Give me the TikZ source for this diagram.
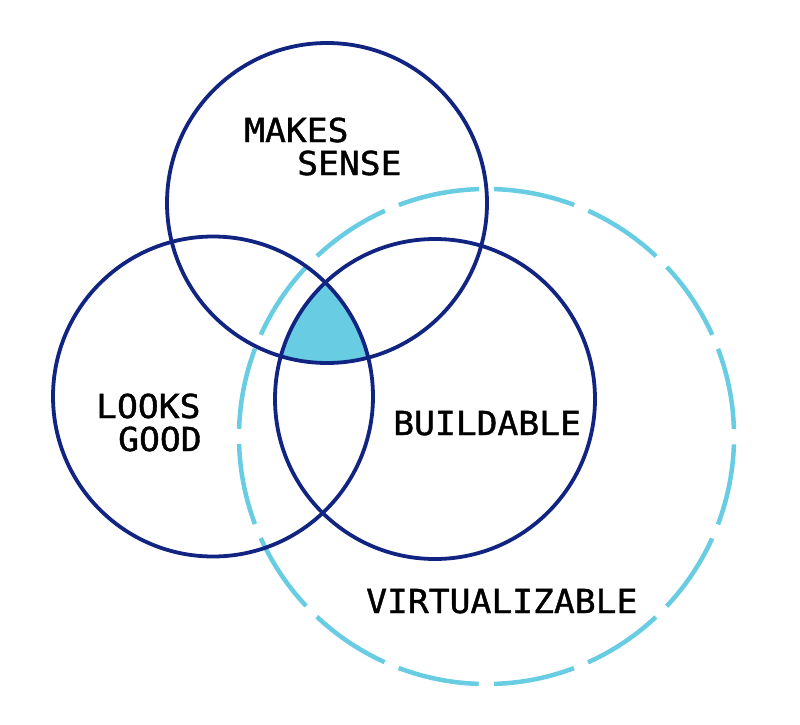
\documentclass[tikz,border=0pt]{standalone}
\usepackage{fontspec}
\newfontfamily\labfont[FakeStretch=1.05,FakeBold=1.2]{DejaVu Sans Mono}
\definecolor{navy}{RGB}{18,36,130}
\definecolor{sky}{RGB}{104,204,226}
\begin{document}
\begin{tikzpicture}[x=1pt,y=-1pt,
  solidcirc/.style={draw=navy,line width=3.8pt},
  dashcirc/.style={draw=sky,line width=4.5pt,dash pattern=on 82pt off 15.19pt,dash phase=89.6pt},
  lab/.style={anchor=base west,inner sep=0pt,font=\labfont\fontsize{33}{40}\selectfont,text=black}]
\fill[white] (0,0) rectangle (800,725);
\useasboundingbox (0,0) rectangle (800,725);
\coordinate (cm) at (327,203);
\coordinate (cl) at (213,396.5);
\coordinate (cb) at (435,399);
\coordinate (cv) at (486.5,436.5);
\draw[dashcirc] (cv) circle[radius=247.5pt];
\begin{scope}
  \clip (cm) circle[radius=160pt];
  \clip (cl) circle[radius=160pt];
  \fill[sky] (cb) circle[radius=160pt];
\end{scope}
\draw[solidcirc] (cm) circle[radius=160pt];
\draw[solidcirc] (cl) circle[radius=160pt];
\draw[solidcirc] (cb) circle[radius=160pt];
\node[lab] (makes) at (244,142) {MAKES};
\node[lab] (sense) at (297,175) {SENSE};
\node[lab] (looks) at (96,418) {LOOKS};
\node[lab] (good) at (118,451) {GOOD};
\node[lab] (build) at (393,435) {BUILDABLE};
\node[lab] (virt) at (366,613) {VIRTUALIZABLE};
\end{tikzpicture}
\end{document}
